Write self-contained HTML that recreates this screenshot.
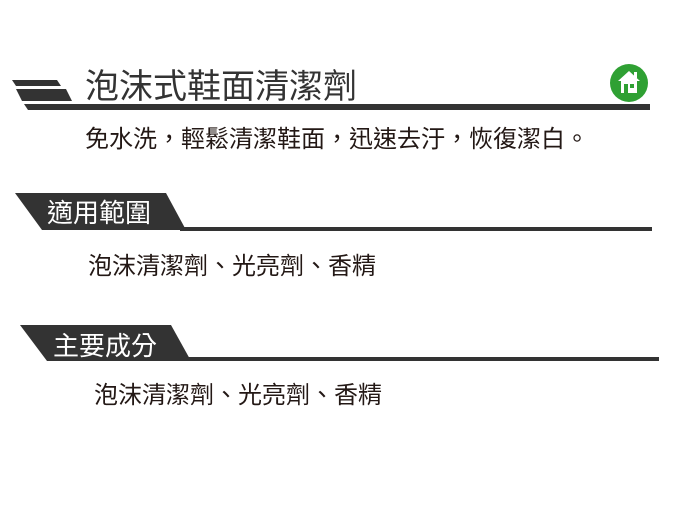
<!DOCTYPE html>
<html><head><meta charset="utf-8"><style>
body{margin:0;width:680px;height:527px;background:#fff;position:relative;overflow:hidden;font-family:"Liberation Sans","Noto Sans CJK TC",sans-serif;color:#231815}
.t{position:absolute;white-space:nowrap;line-height:1}
</style></head><body>
<svg width="680" height="527" style="position:absolute;left:0;top:0">
<polygon points="12,80 57,80 61,86 16,86" fill="#333"/>
<polygon points="16,89 66,89 72,101 22,101" fill="#333"/>
<polygon points="24,104 650,104 650,110 28,110" fill="#333"/>
<circle cx="629" cy="83" r="19" fill="#2fa033"/>
<polygon points="629,71 618,81 621,81 621,93 637,93 637,81 640,81" fill="#fff"/>
<rect x="634" y="72" width="3" height="6" fill="#fff"/>
<rect x="624" y="84" width="4" height="9" fill="#2fa033"/>
<rect x="630" y="84" width="4" height="4" fill="#2fa033"/>
<polygon points="15,193 166,193 186,230 42,230" fill="#333"/>
<rect x="180" y="227" width="472" height="4" fill="#333"/>
<polygon points="20,325 171,325 191,361 47,361" fill="#333"/>
<rect x="185" y="357" width="474" height="4" fill="#333"/>
</svg>
<div class="t" style="left:85px;top:70px;font-size:34px;color:#333">泡沫式鞋面清潔劑</div>
<div class="t" style="left:85px;top:128px;font-size:24px">免水洗，輕鬆清潔鞋面，迅速去汙，恢復潔白。</div>
<div class="t" style="left:47px;top:200px;font-size:26px;color:#fff">適用範圍</div>
<div class="t" style="left:88px;top:255px;font-size:24px">泡沫清潔劑、光亮劑、香精</div>
<div class="t" style="left:53px;top:333px;font-size:26px;color:#fff">主要成分</div>
<div class="t" style="left:94px;top:384px;font-size:24px">泡沫清潔劑、光亮劑、香精</div>
</body></html>
